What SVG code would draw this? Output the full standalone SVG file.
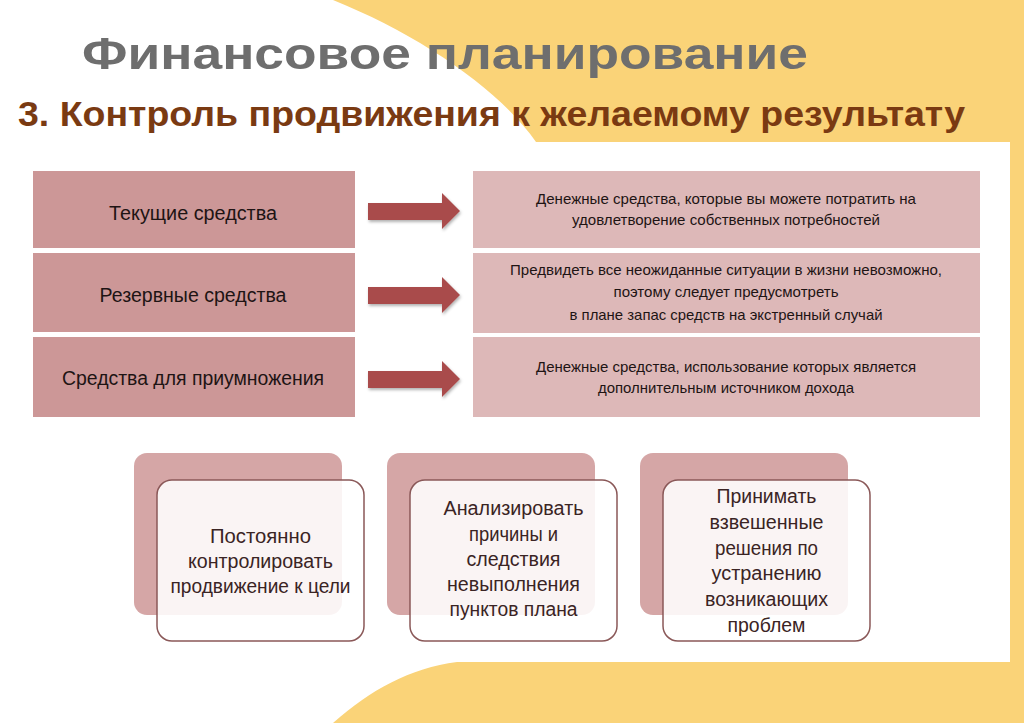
<svg xmlns="http://www.w3.org/2000/svg" width="1024" height="723" viewBox="0 0 1024 723">
<defs>
<style>
.bg{fill:#FAD378}
.title{font-family:"Liberation Sans",Arial,sans-serif;font-weight:bold;font-size:45px;fill:#6E6E6E}
.sub{font-family:"Liberation Sans",Arial,sans-serif;font-weight:bold;font-size:35px;fill:#7A3A12}
.lbox{fill:#CC9797}
.rbox{fill:#DDB8B8}
.lt{font-family:"Liberation Sans",Arial,sans-serif;font-size:20px;fill:#1E1414;text-anchor:middle}
.rt{font-family:"Liberation Sans",Arial,sans-serif;font-size:15px;fill:#1E1414;text-anchor:middle}
.back{fill:#D5A6A6}
.front{fill:#FFFFFF;fill-opacity:0.88;stroke:#8A5858;stroke-width:1.5}
.ct{font-family:"Liberation Sans",Arial,sans-serif;font-size:20px;fill:#3A2424;text-anchor:middle}
.arrow{fill:#A94B4C;filter:url(#sh)}
</style>
<filter id="sh" x="-20%" y="-30%" width="140%" height="170%">
<feDropShadow dx="1" dy="2" stdDeviation="1.5" flood-color="#000" flood-opacity="0.3"/>
</filter>
</defs>
<rect width="1024" height="723" fill="#FFFFFF"/>
<g id="background">
<path class="bg" d="M333,0 C420,35 500,90 536,142 L1010,142 L1010,0 Z"/>
<rect class="bg" x="1010" y="0" width="14" height="723"/>
<path class="bg" d="M333,723 C370,690 410,668 457,662 L1010,662 L1010,723 Z"/>
</g>
<g id="title">
<text class="title" x="82" y="69" textLength="726" lengthAdjust="spacingAndGlyphs">Финансовое планирование</text>
<text class="sub" x="18" y="126" textLength="947" lengthAdjust="spacingAndGlyphs">3. Контроль продвижения к желаемому результату</text>
</g>
<g id="row1-left">
<rect class="lbox" x="33" y="171" width="322" height="77"/>
<text class="lt" x="193" y="220" textLength="168" lengthAdjust="spacingAndGlyphs">Текущие средства</text>
</g>
<g id="row2-left">
<rect class="lbox" x="33" y="253" width="322" height="79"/>
<text class="lt" x="193" y="302" textLength="187" lengthAdjust="spacingAndGlyphs">Резервные средства</text>
</g>
<g id="row3-left">
<rect class="lbox" x="33" y="337" width="322" height="80"/>
<text class="lt" x="193" y="385" textLength="262" lengthAdjust="spacingAndGlyphs">Средства для приумножения</text>
</g>
<g id="row1-right">
<rect class="rbox" x="473" y="171" width="507" height="77"/>
<text class="rt" x="726" y="204" textLength="380" lengthAdjust="spacingAndGlyphs">Денежные средства, которые вы можете потратить на</text>
<text class="rt" x="726" y="225" textLength="308" lengthAdjust="spacingAndGlyphs">удовлетворение собственных потребностей</text>
</g>
<g id="row2-right">
<rect class="rbox" x="473" y="253" width="507" height="80"/>
<text class="rt" x="726" y="275" textLength="432" lengthAdjust="spacingAndGlyphs">Предвидеть все неожиданные ситуации в жизни невозможно,</text>
<text class="rt" x="726" y="297" textLength="225" lengthAdjust="spacingAndGlyphs">поэтому следует предусмотреть</text>
<text class="rt" x="726" y="320" textLength="313" lengthAdjust="spacingAndGlyphs">в плане запас средств на экстренный случай</text>
</g>
<g id="row3-right">
<rect class="rbox" x="473" y="337" width="507" height="80"/>
<text class="rt" x="726" y="372" textLength="380" lengthAdjust="spacingAndGlyphs">Денежные средства, использование которых является</text>
<text class="rt" x="726" y="393" textLength="256" lengthAdjust="spacingAndGlyphs">дополнительным источником дохода</text>
</g>
<g id="connectors">
<path class="arrow" d="M368,203 L442,203 L442,193 L460,211 L442,229 L442,220 L368,220 Z"/>
<path class="arrow" d="M368,287 L442,287 L442,277 L460,295 L442,313 L442,304 L368,304 Z"/>
<path class="arrow" d="M368,371 L442,371 L442,361 L460,379 L442,397 L442,388 L368,388 Z"/>
</g>
<g id="card1">
<rect class="back" x="134" y="453" width="208" height="162" rx="13"/>
<rect class="front" x="157" y="480" width="207" height="161" rx="15"/>
<text class="ct" x="260.5" y="543" textLength="101" lengthAdjust="spacingAndGlyphs">Постоянно</text>
<text class="ct" x="260.5" y="568" textLength="145" lengthAdjust="spacingAndGlyphs">контролировать</text>
<text class="ct" x="260.5" y="593" textLength="180" lengthAdjust="spacingAndGlyphs">продвижение к цели</text>
</g>
<g id="card2">
<rect class="back" x="387" y="453" width="208" height="162" rx="13"/>
<rect class="front" x="410" y="480" width="207" height="161" rx="15"/>
<text class="ct" x="513.5" y="515" textLength="140" lengthAdjust="spacingAndGlyphs">Анализировать</text>
<text class="ct" x="513.5" y="541" textLength="89" lengthAdjust="spacingAndGlyphs">причины и</text>
<text class="ct" x="513.5" y="566" textLength="94" lengthAdjust="spacingAndGlyphs">следствия</text>
<text class="ct" x="513.5" y="591" textLength="133" lengthAdjust="spacingAndGlyphs">невыполнения</text>
<text class="ct" x="513.5" y="616" textLength="128" lengthAdjust="spacingAndGlyphs">пунктов плана</text>
</g>
<g id="card3">
<rect class="back" x="640" y="453" width="208" height="162" rx="13"/>
<rect class="front" x="663" y="480" width="207" height="161" rx="15"/>
<text class="ct" x="766.5" y="503" textLength="100" lengthAdjust="spacingAndGlyphs">Принимать</text>
<text class="ct" x="766.5" y="529" textLength="114" lengthAdjust="spacingAndGlyphs">взвешенные</text>
<text class="ct" x="766.5" y="555" textLength="103" lengthAdjust="spacingAndGlyphs">решения по</text>
<text class="ct" x="766.5" y="580" textLength="110" lengthAdjust="spacingAndGlyphs">устранению</text>
<text class="ct" x="766.5" y="606" textLength="123" lengthAdjust="spacingAndGlyphs">возникающих</text>
<text class="ct" x="766.5" y="632" textLength="78" lengthAdjust="spacingAndGlyphs">проблем</text>
</g>
</svg>
